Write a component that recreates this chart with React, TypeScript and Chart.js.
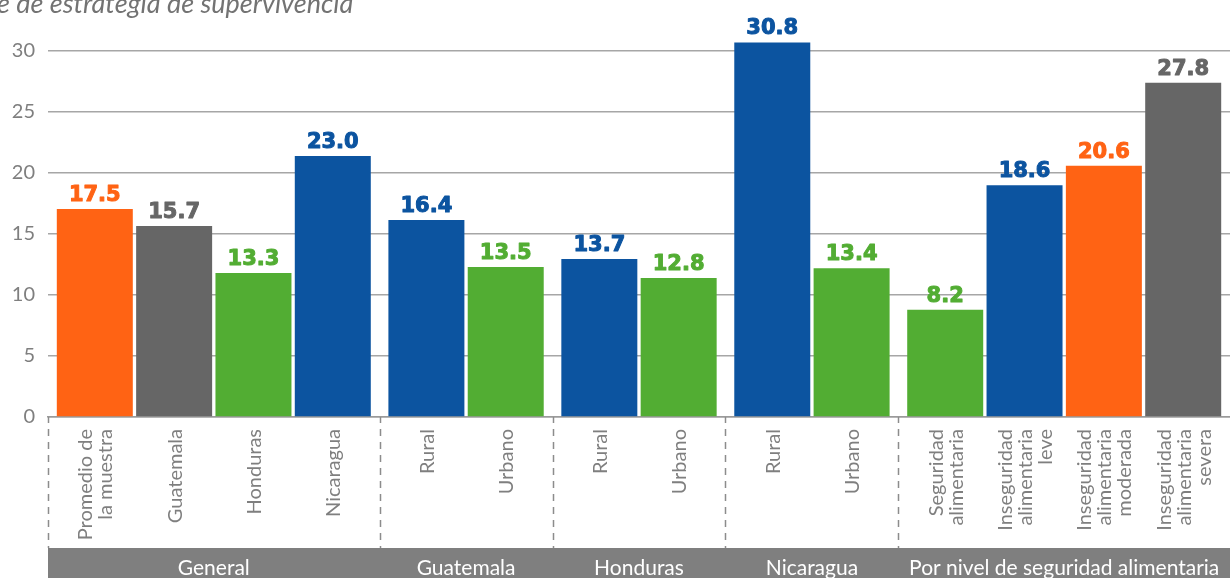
import React, { useEffect, useRef } from 'react';
import { Chart, registerables } from 'chart.js';

Chart.register(...registerables);

// ---------- data ----------
const titleText = 'e de estrategia de supervivencia';
const groupNames = ['General', 'Guatemala', 'Honduras', 'Nicaragua', 'Por nivel de seguridad alimentaria'];
const groupSizes = [4, 2, 2, 2, 4];
const categoryLabels: string[][] = [
  ['Promedio de', 'la muestra'],
  ['Guatemala'],
  ['Honduras'],
  ['Nicaragua'],
  ['Rural'],
  ['Urbano'],
  ['Rural'],
  ['Urbano'],
  ['Rural'],
  ['Urbano'],
  ['Seguridad', 'alimentaria'],
  ['Inseguridad', 'alimentaria', 'leve'],
  ['Inseguridad', 'alimentaria', 'moderada'],
  ['Inseguridad', 'alimentaria', 'severa'],
];
const barValues = [17.05, 15.65, 11.8, 21.4, 16.15, 12.3, 12.95, 11.4, 30.7, 12.2, 8.8, 19.0, 20.6, 27.4];
const valueLabels = ['17.5', '15.7', '13.3', '23.0', '16.4', '13.5', '13.7', '12.8', '30.8', '13.4', '8.2', '18.6', '20.6', '27.8'];
const barColorKeys = ['orange', 'gray', 'green', 'blue', 'blue', 'green', 'blue', 'green', 'blue', 'green', 'green', 'blue', 'orange', 'gray'];
const yTickValues = [0, 5, 10, 15, 20, 25, 30];

// ---------- styles ----------
const palette: Record<string, string> = {
  orange: '#FF6314',
  gray: '#666666',
  green: '#52AD33',
  blue: '#0C54A0',
};
const GROUP_GAP = 0.18;
const AXIS_GRAY = '#7f7f7f';

// bar positions derived from the group structure
const positions: number[] = [];
const groupStartPos: number[] = [];
const groupEndPos: number[] = [];
{
  let idx = 0;
  groupSizes.forEach((n, g) => {
    for (let k = 0; k < n; k++) {
      const p = idx + g * GROUP_GAP;
      if (k === 0) groupStartPos.push(p);
      if (k === n - 1) groupEndPos.push(p);
      positions.push(p);
      idx++;
    }
  });
}
const xMin = positions[0] - 0.5 - GROUP_GAP / 2;
const xMax = positions[positions.length - 1] + 0.5 + GROUP_GAP / 2;

const decorPlugin = {
  id: 'decor',
  afterDraw(chart: any) {
    const ctx = chart.ctx as CanvasRenderingContext2D;
    const xs = chart.scales.x;
    const area = chart.chartArea;
    const meta = chart.getDatasetMeta(0);
    const bandTop = 548;
    const bandBottom = chart.height;

    ctx.save();
    // title (cropped)
    ctx.font = 'italic 27px Lato';
    ctx.fillStyle = '#737373';
    ctx.textAlign = 'left';
    ctx.textBaseline = 'alphabetic';
    ctx.fillText(titleText, -3, 13);

    // value labels
    ctx.font = 'bold 21px "DejaVu Sans"';
    ctx.textAlign = 'center';
    ctx.lineWidth = 1;
    ctx.lineJoin = 'round';
    meta.data.forEach((bar: any, i: number) => {
      const c = palette[barColorKeys[i]];
      ctx.fillStyle = c;
      ctx.strokeStyle = c;
      ctx.fillText(valueLabels[i], bar.x, bar.y - 8);
      ctx.strokeText(valueLabels[i], bar.x, bar.y - 8);
    });

    // group separators
    ctx.strokeStyle = '#8c8c8c';
    ctx.lineWidth = 1.5;
    const seps: number[] = [xs.getPixelForValue(xMin)];
    for (let g = 1; g < groupSizes.length; g++) {
      seps.push(xs.getPixelForValue((groupEndPos[g - 1] + groupStartPos[g]) / 2));
    }
    seps.forEach((sx) => {
      const px = Math.round(sx) + 0.5;
      ctx.setLineDash([]);
      ctx.beginPath();
      ctx.moveTo(px, area.bottom);
      ctx.lineTo(px, area.bottom + 6);
      ctx.stroke();
      ctx.setLineDash([7, 6]);
      ctx.beginPath();
      ctx.moveTo(px, area.bottom + 12);
      ctx.lineTo(px, bandTop);
      ctx.stroke();
    });
    ctx.setLineDash([]);

    // category labels (rotated)
    ctx.font = '20px Lato';
    ctx.fillStyle = AXIS_GRAY;
    const lh = 20;
    meta.data.forEach((bar: any, i: number) => {
      const lines = categoryLabels[i];
      ctx.save();
      ctx.translate(bar.x, area.bottom + 12);
      ctx.rotate(-Math.PI / 2);
      ctx.textAlign = 'right';
      ctx.textBaseline = 'middle';
      lines.forEach((ln, j) => {
        ctx.fillText(ln, 0, (j - (lines.length - 1) / 2) * lh + 1);
      });
      ctx.restore();
    });

    // group band
    ctx.fillStyle = '#7f7f7f';
    ctx.fillRect(area.left, bandTop, area.right - area.left, bandBottom - bandTop);
    ctx.fillStyle = '#ffffff';
    ctx.font = '21px Lato';
    ctx.textAlign = 'center';
    ctx.textBaseline = 'alphabetic';
    groupNames.forEach((name, g) => {
      const l = g === 0 ? xs.getPixelForValue(xMin) : seps[g];
      const r = g === groupNames.length - 1 ? xs.getPixelForValue(xMax) : seps[g + 1];
      ctx.fillText(name, (l + r) / 2, 575);
    });
    ctx.restore();
  },
};

export default function App() {
  const canvasRef = useRef<HTMLCanvasElement | null>(null);

  useEffect(() => {
    if (!canvasRef.current) return;
    const chart = new Chart(canvasRef.current, {
      type: 'bar',
      data: {
        datasets: [
          {
            data: positions.map((x, i) => ({ x, y: barValues[i] })),
            backgroundColor: barColorKeys.map((k) => palette[k]),
            borderWidth: 0,
            barPercentage: 0.958,
            categoryPercentage: 1,
            clip: false as any,
          },
        ],
      },
      options: {
        animation: false,
        responsive: true,
        maintainAspectRatio: false,
        layout: { padding: { top: 51, left: 0, right: 0, bottom: 0 } },
        plugins: {
          legend: { display: false },
          tooltip: { enabled: false },
        },
        scales: {
          x: {
            type: 'linear',
            min: xMin,
            max: xMax,
            offset: false,
            grid: { display: false },
            ticks: { display: false },
            border: { display: true, color: '#9a9a9a', width: 1.5 },
            afterFit: (scale: any) => {
              scale.height = 161;
            },
          },
          y: {
            min: 0,
            max: 30,
            afterBuildTicks: (scale: any) => {
              scale.ticks = yTickValues.map((v) => ({ value: v }));
            },
            ticks: {
              font: { family: 'Lato', size: 20 },
              color: AXIS_GRAY,
              padding: 13,
            },
            grid: { color: '#a6a6a6', lineWidth: 1.5, drawTicks: false },
            border: { display: false },
            afterFit: (scale: any) => {
              scale.width = 48;
            },
          },
        },
      } as any,
      plugins: [decorPlugin],
    });
    return () => chart.destroy();
  }, []);

  return (
    <div style={{ position: 'absolute', left: 0, top: 0, width: 1230, height: 578 }}>
      <canvas ref={canvasRef} />
    </div>
  );
}
